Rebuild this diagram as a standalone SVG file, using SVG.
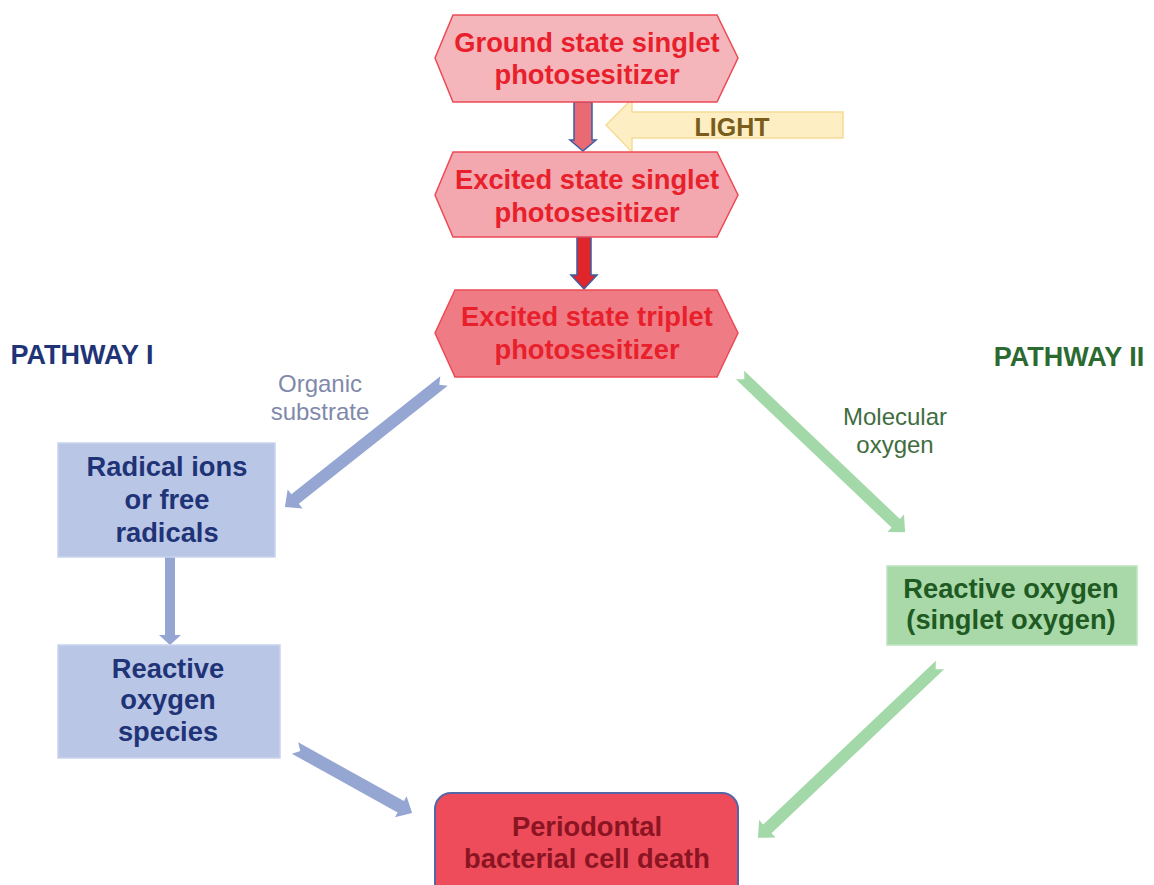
<svg xmlns="http://www.w3.org/2000/svg" width="1154" height="885" viewBox="0 0 1154 885">
<style>
  text { font-family: "Liberation Sans", Arial, sans-serif; text-anchor: middle; }
  .b { font-weight: bold; font-size: 27.3px; }
  .hex { stroke: #ec4a55; stroke-width: 1.5; }
  .hext { fill: #e8202c; }
  .blue { fill: #bac6e6; stroke: #c9d3ef; stroke-width: 1.5; }
  .bluet { fill: #1f3377; }
  .green { fill: #a9d9a9; stroke: #bfe4bf; stroke-width: 1.5; }
  .greent { fill: #1e5a22; }
  .lbl { font-size: 24px; }
  .pw { font-weight: bold; font-size: 27px; }
  .barrow { fill: #95a6d3; }
  .garrow { fill: #a3d9a8; }
</style>
<rect width="1154" height="885" fill="#ffffff"/>

<g id="connectors">
  <polygon points="574,102 592,102 592,140 596,140 583,151 570,140 574,140" fill="#ea6a74" stroke="#3d5ea3" stroke-width="1.5"/>
  <polygon points="577,237 591,237 591,275 597,275 584,289 571,275 577,275" fill="#e0262b" stroke="#3d5ea3" stroke-width="1.5"/>
  <g id="light-arrow">
    <polygon points="606,125 632,99 632,112 843,112 843,138 632,138 632,152" fill="#fdefc3" stroke="#f6dc98" stroke-width="1.5"/>
    <text x="732" y="136" style="font-weight:bold;font-size:25px;fill:#7a5d1c">LIGHT</text>
  </g>
  <polygon class="barrow" transform="translate(444,381) rotate(141.6)" points="0,-6 190,-6 190,-12 203,0 190,12 190,6 0,6 6,0"/>
  <polygon class="garrow" transform="translate(740,375) rotate(43.6)" points="0,-6 215,-6 215,-12 228,0 215,12 215,6 0,6 6,0"/>
  <polygon class="garrow" transform="translate(940,665) rotate(136.5)" points="0,-6 238,-6 238,-12 251,0 238,12 238,6 0,6 6,0"/>
  <polygon class="barrow" transform="translate(295,748) rotate(29.05)" points="0,-6.5 121,-6.5 121,-12 134,0 121,12 121,6.5 0,6.5 6,0"/>
  <polygon class="barrow" points="165,557 175,557 175,635 181,635 170,645 159,635 165,635"/>
  <text class="lbl" x="320" y="392" fill="#7f89aa">Organic</text>
  <text class="lbl" x="320" y="420" fill="#7f89aa">substrate</text>
  <text class="lbl" x="895" y="425" fill="#3f6d40">Molecular</text>
  <text class="lbl" x="895" y="453" fill="#3f6d40">oxygen</text>
</g>

<g id="ground-state">
  <polygon class="hex" points="435,58 453,15 717,15 738,58 717,102 453,102" fill="#f5b6bb"/>
  <text class="b hext" x="587" y="52">Ground state singlet</text>
  <text class="b hext" x="587" y="84">photosesitizer</text>
</g>
<g id="excited-singlet">
  <polygon class="hex" points="435,195 453,152 717,152 738,195 717,237 453,237" fill="#f3a7ae"/>
  <text class="b hext" x="587" y="189">Excited state singlet</text>
  <text class="b hext" x="587" y="222">photosesitizer</text>
</g>
<g id="excited-triplet">
  <polygon class="hex" points="435,333 455,290 717,290 738,333 717,377 455,377" fill="#ef7c84"/>
  <text class="b hext" x="587" y="326">Excited state triplet</text>
  <text class="b hext" x="587" y="359">photosesitizer</text>
</g>

<g id="pathway-1">
  <text class="pw" x="82" y="364" fill="#1f3377">PATHWAY I</text>
</g>
<g id="pathway-2">
  <text class="pw" x="1069" y="366" fill="#2b6a30">PATHWAY II</text>
</g>

<g id="radicals">
  <rect class="blue" x="58" y="443" width="217" height="114"/>
  <text class="b bluet" x="167" y="476">Radical ions</text>
  <text class="b bluet" x="167" y="509">or free</text>
  <text class="b bluet" x="167" y="542">radicals</text>
</g>
<g id="ros">
  <rect class="blue" x="58" y="645" width="222" height="113"/>
  <text class="b bluet" x="168" y="678">Reactive</text>
  <text class="b bluet" x="168" y="709">oxygen</text>
  <text class="b bluet" x="168" y="741">species</text>
</g>
<g id="singlet-oxygen">
  <rect class="green" x="887" y="566" width="250" height="79"/>
  <text class="b greent" x="1011" y="598">Reactive oxygen</text>
  <text class="b greent" x="1011" y="629">(singlet oxygen)</text>
</g>
<g id="cell-death">
  <rect x="435" y="793" width="303" height="115" rx="16" fill="#ee4c5a" stroke="#5566a6" stroke-width="2"/>
  <text class="b" x="587" y="836" fill="#8a1422">Periodontal</text>
  <text class="b" x="587" y="868" fill="#8a1422">bacterial cell death</text>
</g>
</svg>
